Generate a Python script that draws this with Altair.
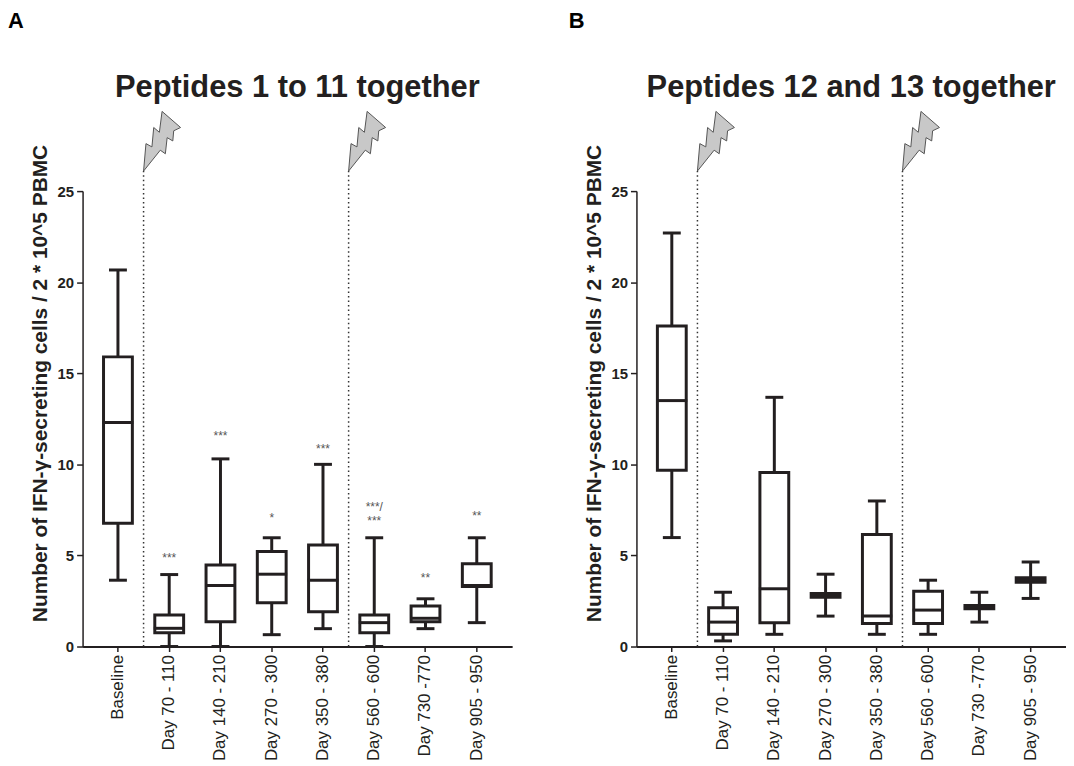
import altair as alt
import pandas as pd

categories = ["Baseline", "Day 70 - 110", "Day 140 - 210", "Day 270 - 300",
              "Day 350 - 380", "Day 560 - 600", "Day 730 -770", "Day 905 - 950"]

# Panel A: Peptides 1 to 11 together (box plots: min, Q1, median, Q3, max)
a_low = [3.64, 0.0, 0.0, 0.65, 0.98, 0.0, 0.98, 1.31]
a_q1 = [6.77, 0.76, 1.36, 2.40, 1.91, 0.76, 1.36, 3.30]
a_med = [12.3, 1.0, 3.35, 3.97, 3.64, 1.31, 1.55, 3.35]
a_q3 = [15.9, 1.73, 4.47, 5.22, 5.57, 1.73, 2.22, 4.55]
a_high = [20.67, 3.95, 10.3, 5.97, 10.0, 5.97, 2.62, 5.97]

# Panel B: Peptides 12 and 13 together
b_low = [5.98, 0.31, 0.67, 1.67, 0.67, 0.67, 1.34, 2.64]
b_q1 = [9.68, 0.67, 1.31, 2.71, 1.27, 1.27, 2.07, 3.53]
b_med = [13.5, 1.34, 3.17, 2.80, 1.67, 2.0, 2.16, 3.64]
b_q3 = [17.6, 2.13, 9.55, 2.91, 6.15, 3.04, 2.25, 3.77]
b_high = [22.7, 2.98, 13.68, 3.97, 7.99, 3.64, 2.98, 4.64]

# Significance marks (panel A)
sig_cats = ["Day 70 - 110", "Day 140 - 210", "Day 270 - 300", "Day 350 - 380",
            "Day 560 - 600", "Day 560 - 600", "Day 730 -770", "Day 905 - 950"]
sig_text = ["***", "***", "*", "***", "***/", "***", "**", "**"]
sig_y = [5.0, 11.7, 7.2, 11.0, 7.8, 7.04, 3.9, 7.35]

# Booster vaccinations (dotted lines + lightning)
boost_cats = ["Day 70 - 110", "Day 560 - 600"]
boost_top = [26.1, 26.1]

panel_titles = ["Peptides 1 to 11 together", "Peptides 12 and 13 together"]
panel_letters = ["A", "B"]

y_title = "Number of IFN-\u03b3-secreting cells / 2 * 10^5 PBMC"
INK = "#231f20"
FONT = "Liberation Sans"
BOLT = ("M 0.62 -2 L 1.24 -1.46 L 1.01 -1.35 L 0.98 -1.01 L 0.79 -1.12 "
        "L 0.73 -0.58 L 0.56 -0.70 L 0 0 L 0.08 -0.92 L 0.28 -0.81 "
        "L 0.34 -1.46 L 0.53 -1.30 Z")

W, H = 432, 458
LW = 3


def panel(low, q1, med, q3, high, title, letter, letter_x, sig=None):
    df = pd.DataFrame({"cat": categories, "low": low, "q1": q1, "med": med,
                       "q3": q3, "high": high})
    xscale = alt.Scale(domain=categories, paddingInner=0, paddingOuter=0.19)
    xaxis = alt.Axis(labelAngle=270, labelAlign="right", labelBaseline="middle",
                     labelFontSize=17, labelFont=FONT, labelColor=INK,
                     labelPadding=3, tickSize=5, tickWidth=1.5, tickColor=INK,
                     domainWidth=2, domainColor=INK, title=None)
    yscale = alt.Scale(domain=[0, 25], nice=False, zero=True)
    yaxis = alt.Axis(values=[0, 5, 10, 15, 20, 25], grid=False,
                     labelFontSize=15, labelFontWeight="bold", labelFont=FONT,
                     labelColor=INK, labelPadding=3, tickSize=6, tickWidth=1.5,
                     tickColor=INK, domainWidth=1.5, domainColor=INK,
                     title=y_title, titleFont=FONT, titleFontSize=21,
                     titleFontWeight="bold", titleColor=INK, titleAngle=270,
                     titleBaseline="alphabetic", titleX=-36, titleY=193)

    def X(**kw):
        return alt.X("cat:N", scale=xscale, axis=xaxis, **kw)

    def Y(f):
        return alt.Y(f + ":Q", scale=yscale, axis=yaxis)

    base = alt.Chart(df)
    w_lo = base.mark_rule(color=INK, strokeWidth=LW).encode(
        x=X(), y=Y("low"), y2="q1")
    w_hi = base.mark_rule(color=INK, strokeWidth=LW).encode(
        x=X(), y=Y("q3"), y2="high")
    box = base.mark_bar(fill="white", stroke=INK, strokeWidth=LW,
                        size=29).encode(x=X(), y=Y("q1"), y2="q3")
    median = base.mark_tick(color=INK, thickness=LW, size=31,
                            opacity=1).encode(x=X(), y=Y("med"))
    cap_lo = base.mark_tick(color=INK, thickness=LW, size=18,
                            opacity=1).encode(x=X(), y=Y("low"))
    cap_hi = base.mark_tick(color=INK, thickness=LW, size=18,
                            opacity=1).encode(x=X(), y=Y("high"))

    bdf = pd.DataFrame({"cat": boost_cats, "top": boost_top,
                        "zero": [0, 0]})
    boost = alt.Chart(bdf).mark_rule(color="#333333", strokeWidth=1.5,
                                     strokeDash=[1.5, 3]).encode(
        x=X(bandPosition=0), y=Y("zero"), y2="top")
    bolt = alt.Chart(bdf).mark_point(shape=BOLT, filled=True, fill="#c8c8c8",
                                     stroke="#555555", strokeWidth=1,
                                     size=3600, opacity=1).encode(
        x=X(bandPosition=0), y=Y("top"))

    tdf = pd.DataFrame({"t": [title], "l": [letter]})
    title_mark = alt.Chart(tdf).mark_text(
        align="center", baseline="alphabetic", fontSize=31, fontWeight="bold",
        font=FONT, color=INK).encode(
        text="t:N", x=alt.value(W / 2), y=alt.value(-95))
    letter_mark = alt.Chart(tdf).mark_text(
        align="left", baseline="top", fontSize=22, fontWeight="bold",
        font=FONT, color="black").encode(
        text="l:N", x=alt.value(letter_x), y=alt.value(-181))

    layers = [w_lo, w_hi, box, median, cap_lo, cap_hi, boost, bolt]
    if sig is not None:
        sdf = pd.DataFrame({"cat": sig[0], "txt": sig[1], "y": sig[2]})
        layers.append(alt.Chart(sdf).mark_text(
            fontSize=12, font=FONT, color="#555555", baseline="middle",
            dy=3).encode(x=X(), y=Y("y"), text="txt:N"))
    layers += [title_mark, letter_mark]

    return alt.layer(*layers).properties(width=W, height=H)


left = panel(a_low, a_q1, a_med, a_q3, a_high, panel_titles[0],
             panel_letters[0], -75, sig=(sig_cats, sig_text, sig_y))
right = panel(b_low, b_q1, b_med, b_q3, b_high, panel_titles[1],
              panel_letters[1], -68)

chart = alt.hconcat(left, right, spacing=57).properties(
    padding=0, background="white").configure_view(stroke=None)

chart.save("out.html", embed_options={"renderer": "svg", "actions": False})
